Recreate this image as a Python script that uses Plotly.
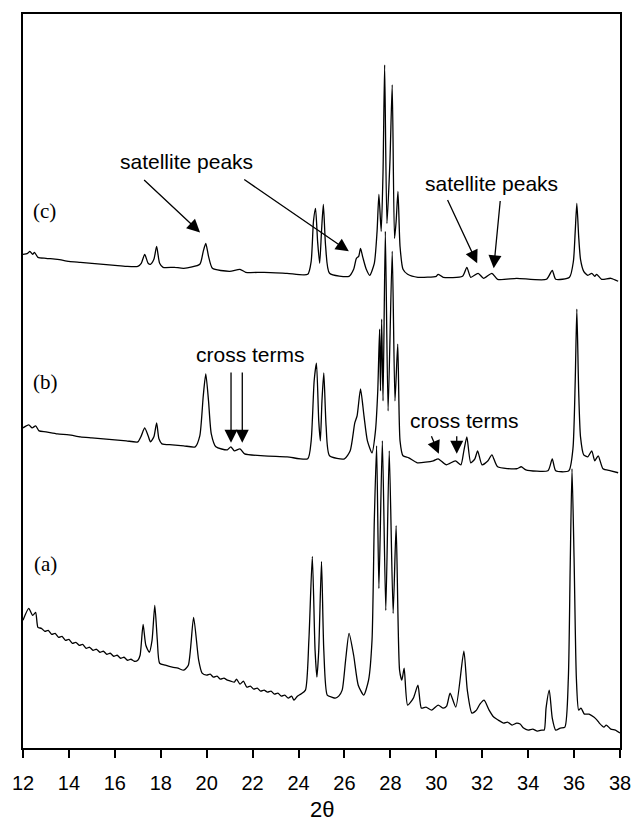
import plotly.graph_objects as go

# ---- trace (c): 2-theta and intensity (arbitrary units) ----
c_x = [12.0, 12.2, 12.3, 12.42, 12.5, 12.65, 13.0, 13.5, 14.0, 14.5, 15.0, 15.5, 16.0, 16.5, 17.0,
       17.15, 17.3, 17.45, 17.55, 17.7, 17.82, 17.95, 18.1, 18.6, 19.0, 19.7, 19.85, 19.96, 20.08,
       20.25, 21.0, 21.45, 21.7, 22.5, 23.5, 24.4, 24.55, 24.65, 24.74, 24.83, 24.92, 25.0, 25.08,
       25.18, 25.35, 26.2, 26.4, 26.52, 26.62, 26.7, 26.8, 26.95, 27.1, 27.3, 27.42, 27.5, 27.6,
       27.68, 27.75, 27.85, 27.98, 28.08, 28.18, 28.25, 28.33, 28.42, 28.55, 28.75, 29.2, 30.0,
       30.08, 30.3, 31.14, 31.33, 31.5, 31.82, 32.06, 32.42, 32.67, 33.5, 34.8, 35.05, 35.2, 35.8,
       35.97, 36.05, 36.12, 36.2, 36.28, 36.42, 36.6, 36.77, 36.9, 36.98, 37.2, 37.6, 37.92]
c_y = [495, 496, 498, 495, 497, 492, 491, 490, 488, 487, 486, 485, 484, 483, 483,
       486, 495, 486, 485, 490, 503, 486, 482, 482, 481, 485, 498, 506, 493,
       481, 478, 480, 477, 477, 476, 475, 488, 528, 541, 508, 486, 518, 545,
       503, 476, 473, 480, 491, 493, 501, 492, 480, 474, 486, 518, 555, 518,
       578, 685, 526, 588, 665, 511, 528, 558, 503, 480, 475, 472, 473,
       475, 472, 473, 482, 472, 476, 471, 476, 470, 471, 470, 479, 470, 472,
       488, 518, 546, 513, 490, 478, 474, 476, 473, 475, 470, 471, 468]

# ---- trace (b) ----
b_x = [12.0, 12.25, 12.4, 12.55, 12.7, 13.0, 13.5, 14.0, 14.5, 15.0, 15.5, 16.0, 16.5, 17.0,
       17.15, 17.3, 17.45, 17.55, 17.7, 17.82, 17.92, 18.05, 18.5, 19.0, 19.5, 19.7, 19.85, 19.96,
       20.08, 20.2, 20.4, 20.9, 21.05, 21.2, 21.45, 21.65, 22.5, 23.5, 24.4, 24.55, 24.68, 24.78,
       24.88, 24.95, 25.02, 25.1, 25.2, 25.35, 26.0, 26.25, 26.45, 26.55, 26.7, 26.85, 27.0, 27.2,
       27.35, 27.45, 27.53, 27.57, 27.62, 27.68, 27.78, 27.9, 28.08, 28.2, 28.32, 28.42, 28.55,
       28.8, 29.17, 29.87, 30.08, 30.43, 30.83, 31.07, 31.2, 31.33, 31.5, 31.68, 31.8, 31.99,
       32.25, 32.42, 32.67, 33.5, 33.7, 33.9, 34.86, 35.05, 35.2, 35.77, 35.95, 36.05, 36.12,
       36.2, 36.28, 36.42, 36.6, 36.77, 36.9, 37.05, 37.26, 37.6, 37.92]
b_y = [321, 324, 321, 323, 318, 317, 315, 314, 312, 311, 310, 309, 308, 307,
       313, 321, 313, 307, 312, 326, 310, 305, 304, 303, 302, 313, 353, 375,
       348, 315, 302, 299, 302, 298, 300, 295, 293, 292, 290, 308, 368, 386,
       328, 308, 348, 376, 323, 293, 290, 298, 326, 333, 360, 333, 308, 296,
       318, 358, 420, 358, 430, 348, 518, 338, 498, 348, 405, 308, 293,
       291, 286, 288, 290, 284, 288, 284, 298, 312, 286, 290, 298, 284,
       288, 294, 282, 280, 282, 279, 278, 290, 278, 278, 300, 368, 440,
       358, 312, 294, 292, 298, 288, 293, 280, 278, 276]

# ---- trace (a) (noisier pattern) ----
a_x = [12.0, 12.25, 12.42, 12.55, 12.65, 12.8, 12.95, 13.1, 13.25, 13.4, 13.55, 13.7, 13.85,
       14.0, 14.15, 14.3, 14.45, 14.6, 14.75, 14.9, 15.05, 15.2, 15.35, 15.5, 15.65, 15.8, 15.95,
       16.1, 16.25, 16.4, 16.55, 16.7, 16.85, 17.0, 17.1, 17.23, 17.35, 17.5, 17.62, 17.74, 17.85,
       17.95, 18.2, 18.5, 18.75, 19.0, 19.2, 19.43, 19.65, 19.8, 20.0, 20.15, 20.3, 20.45, 20.6,
       20.75, 20.9, 21.05, 21.2, 21.3, 21.45, 21.6, 21.75, 21.9, 22.05, 22.2, 22.35, 22.5, 22.65,
       22.8, 22.95, 23.1, 23.25, 23.4, 23.55, 23.7, 23.8, 23.95, 24.1, 24.3, 24.45, 24.6, 24.72,
       24.8, 24.88, 25.0, 25.1, 25.25, 25.45, 25.6, 25.75, 25.9, 26.05, 26.2, 26.4, 26.6, 26.84,
       27.05, 27.2, 27.3, 27.4, 27.5, 27.65, 27.8, 27.95, 28.12, 28.25, 28.4, 28.5, 28.6, 28.75,
       29.0, 29.2, 29.35, 29.55, 29.8, 30.08, 30.3, 30.45, 30.6, 30.85, 31.2, 31.35, 31.55, 31.75,
       31.9, 32.08, 32.3, 32.5, 32.7, 32.93, 33.1, 33.3, 33.5, 33.65, 33.8, 34.0, 34.2, 34.4, 34.6,
       34.7, 34.78, 34.92, 35.05, 35.2, 35.4, 35.6, 35.75, 35.83, 35.91, 36.0, 36.1, 36.2, 36.3,
       36.45, 36.65, 36.86, 37.0, 37.1, 37.3, 37.4, 37.6, 37.8, 38.0]
a_y = [128, 140, 133, 136, 121, 120, 117, 118, 114, 115, 111, 112, 108,
       109, 105, 106, 103, 104, 100, 101, 98, 99, 96, 97, 94, 95, 92,
       93, 90, 91, 88, 89, 87, 88, 93, 124, 103, 96, 108, 143, 108,
       85, 83, 81, 80, 78, 83, 131, 88, 75, 73, 74, 71, 72, 69,
       70, 68, 67, 66, 69, 64, 67, 61, 62, 59, 60, 57, 58, 56,
       57, 54, 55, 52, 53, 50, 52, 48, 52, 54, 58, 108, 192, 98,
       71, 98, 187, 98, 53, 51, 50, 52, 58, 88, 115, 93, 63, 53,
       68, 108, 228, 303, 160, 308, 138, 298, 135, 223, 78, 68, 80, 43,
       50, 63, 40, 41, 38, 43, 40, 42, 55, 41, 97, 58, 35, 38,
       44, 48, 38, 31, 28, 25, 26, 23, 25, 24, 20, 18, 19, 17, 18,
       18, 40, 58, 30, 18, 20, 21, 70, 180, 280, 190, 70, 38, 40,
       34, 34, 31, 28, 25, 21, 23, 19, 18, 15]

x_ticks = [12, 14, 16, 18, 20, 22, 24, 26, 28, 30, 32, 34, 36, 38]

fig = go.Figure()
for xs, ys in [(a_x, a_y), (b_x, b_y), (c_x, c_y)]:
    fig.add_trace(go.Scatter(x=xs, y=ys, mode="lines",
                             line=dict(color="black", width=1.3, shape="spline", smoothing=0.6),
                             showlegend=False, hoverinfo="skip"))

sans = "Liberation Sans, Arial, Helvetica, sans-serif"
serif = "Liberation Serif, Times New Roman, serif"

# text labels
texts = [
    ("satellite peaks", 19.11, 588),
    ("satellite peaks", 32.41, 566),
    ("cross terms", 21.91, 395),
    ("cross terms", 31.22, 328),
]
for t, x, y in texts:
    fig.add_annotation(x=x, y=y, text=t, showarrow=False,
                       font=dict(family=sans, size=21, color="black"))

for t, x, y in [("(c)", 12.95, 538), ("(b)", 12.97, 367), ("(a)", 12.97, 185)]:
    fig.add_annotation(x=x, y=y, text=t, showarrow=False,
                       font=dict(family=serif, size=21, color="black"))

# arrows (tail -> tip)
arrows = [
    (17.21, 571, 19.71, 517),
    (21.57, 571, 26.19, 498),
    (30.46, 551, 31.78, 486),
    (32.79, 550, 32.50, 481),
    (21.06, 378, 21.06, 306),
    (21.55, 378, 21.55, 306),
    (29.76, 314, 30.11, 295),
    (30.89, 314, 30.89, 295),
]
for ax, ay, x, y in arrows:
    fig.add_annotation(x=x, y=y, ax=ax, ay=ay, axref="x", ayref="y", text="",
                       showarrow=True, arrowhead=2, arrowsize=2.0, arrowwidth=1.3,
                       arrowcolor="black", standoff=0, startstandoff=0)

fig.add_annotation(xref="paper", yref="paper", x=0.5, y=0, yanchor="middle",
                   yshift=-61, text="2θ", showarrow=False,
                   font=dict(family=sans, size=22, color="black"))

fig.update_xaxes(range=[12, 38], tickvals=x_ticks, ticktext=[str(v) for v in x_ticks],
                 ticks="outside", ticklen=8, tickwidth=2, tickcolor="black",
                 showline=True, linewidth=2, linecolor="black", mirror=True,
                 showgrid=False, zeroline=False, ticklabelstandoff=8,
                 tickfont=dict(family=sans, size=20, color="black"))
fig.update_yaxes(range=[0, 736], showticklabels=False, ticks="",
                 showline=True, linewidth=2, linecolor="black", mirror=True,
                 showgrid=False, zeroline=False)

fig.update_layout(width=643, height=823, margin=dict(l=14, r=15, t=12, b=75),
                  plot_bgcolor="white", paper_bgcolor="white")

fig.write_html("out.html")
